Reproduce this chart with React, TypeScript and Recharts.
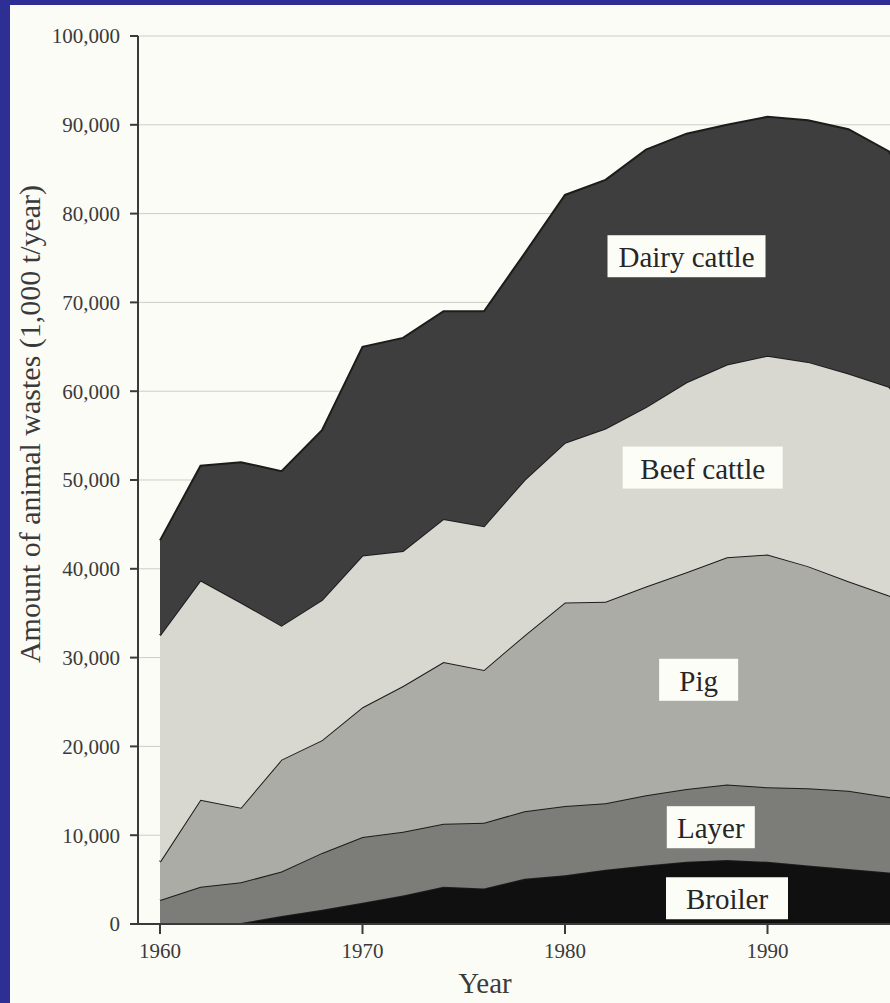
import React from 'react'
import {
  AreaChart,
  Area,
  XAxis,
  YAxis,
  CartesianGrid,
  ReferenceDot,
  Label
} from 'recharts'

// Animal wastes by livestock type, 1,000 t/year
const years = [
  1960, 1962, 1964, 1966, 1968, 1970, 1972, 1974, 1976, 1978,
  1980, 1982, 1984, 1986, 1988, 1990, 1992, 1994, 1996, 1998
]
const broiler = [
  0, 0, 100, 900, 1600, 2400, 3200, 4200, 4000, 5100,
  5500, 6100, 6600, 7000, 7200, 7000, 6600, 6200, 5800, 5300
]
const layer = [
  2700, 4200, 4600, 5000, 6400, 7400, 7200, 7100, 7400, 7600,
  7800, 7500, 7900, 8200, 8500, 8400, 8700, 8800, 8500, 8200
]
const pig = [
  4300, 9800, 8400, 12600, 12700, 14600, 16400, 18200, 17200, 19800,
  22900, 22700, 23500, 24400, 25600, 26200, 25000, 23600, 22700, 21000
]
const beef = [
  25500, 24700, 23100, 15100, 15800, 17100, 15200, 16100, 16200, 17500,
  18000, 19500, 20200, 21400, 21700, 22400, 23000, 23400, 23500, 20500
]
const dairy = [
  10700, 12900, 15800, 17400, 19100, 23500, 24000, 23400, 24200, 25500,
  27900, 28000, 29000, 28000, 27000, 26900, 27200, 27500, 26500, 24000
]

const xTicks = [1960, 1970, 1980, 1990]
const yTicks = [0, 10000, 20000, 30000, 40000, 50000, 60000, 70000, 80000, 90000, 100000]

// in-chart labels (anchored in data units)
const labelNames = ['Dairy cattle', 'Beef cattle', 'Pig', 'Layer', 'Broiler']
const labelYears = [1986.0, 1986.8, 1986.6, 1987.2, 1988.0]
const labelValues = [75200, 51400, 27500, 10900, 2900]
const labelBoxWidths = [158, 160, 79, 88, 122]

const data = years.map((year, i) => ({
  year,
  broiler: broiler[i],
  layer: layer[i],
  pig: pig[i],
  beef: beef[i],
  dairy: dairy[i]
}))

const FONT = '"Liberation Serif", "Times New Roman", serif'
const INK = '#3a3a3a'
const EDGE = '#1c1c1c'

const series = [
  { key: 'broiler', fill: '#101010' },
  { key: 'layer', fill: '#7c7c79' },
  { key: 'pig', fill: '#acaca6' },
  { key: 'beef', fill: '#d8d8d1' },
  { key: 'dairy', fill: '#3e3e3e' }
]

const LabelBox = (props: any) => {
  const { cx, cy, text, w } = props
  return (
    <g>
      <rect x={cx - w / 2} y={cy - 21} width={w} height={42} fill="#fdfdf8" />
      <text
        x={cx}
        y={cy + 1}
        textAnchor="middle"
        dominantBaseline="central"
        fontSize={29}
        fontFamily={FONT}
        fill="#262626"
      >
        {text}
      </text>
    </g>
  )
}

const App: React.FC = () => {
  return (
    <div
      style={{
        position: 'fixed',
        left: 0,
        top: 0,
        width: 890,
        height: 1003,
        overflow: 'hidden',
        background: '#2d2f95'
      }}
    >
      <div
        style={{
          position: 'absolute',
          left: 10,
          top: 5,
          width: 1000,
          height: 998,
          background: '#fcfcf6'
        }}
      >
        <AreaChart
          width={990}
          height={998}
          data={data}
          margin={{ top: 31, right: 30, left: 0, bottom: 19 }}
        >
          <CartesianGrid vertical={false} stroke="#cdcdc6" strokeWidth={1} />
          <XAxis
            dataKey="year"
            type="number"
            domain={[1960, 2000]}
            ticks={xTicks}
            padding={{ left: 22, right: 0 }}
            height={60}
            stroke={INK}
            strokeWidth={2}
            tickSize={10}
            tickMargin={9}
            tick={{ fontSize: 21, fontFamily: FONT, fill: INK }}
          >
            <Label
              content={({ viewBox }: any) => (
                <text
                  x={viewBox.x + 347}
                  y={viewBox.y + 59}
                  textAnchor="middle"
                  dominantBaseline="central"
                  fontSize={29}
                  fontFamily={FONT}
                  fill={INK}
                >
                  Year
                </text>
              )}
            />
          </XAxis>
          <YAxis
            type="number"
            domain={[0, 100000]}
            ticks={yTicks}
            width={128}
            stroke={INK}
            strokeWidth={2}
            tickSize={8}
            tickMargin={10}
            tickFormatter={(v: number) => v.toLocaleString('en-US')}
            tick={{ fontSize: 21, fontFamily: FONT, fill: INK }}
          >
            <Label
              content={({ viewBox }: any) => {
                const x = viewBox.x + 19
                const y = viewBox.y + viewBox.height / 2 - 56
                return (
                  <text
                    x={x}
                    y={y}
                    transform={`rotate(-90, ${x}, ${y})`}
                    textAnchor="middle"
                    dominantBaseline="central"
                    fontSize={30}
                    fontFamily={FONT}
                    fill={INK}
                  >
                    Amount of animal wastes (1,000 t/year)
                  </text>
                )
              }}
            />
          </YAxis>
          {series.map((s) => (
            <Area
              key={s.key}
              type="linear"
              dataKey={s.key}
              stackId="1"
              fill={s.fill}
              fillOpacity={1}
              stroke={EDGE}
              strokeWidth={2}
              dot={false}
              activeDot={false}
              isAnimationActive={false}
            />
          ))}
          {labelNames.map((name, i) => (
            <ReferenceDot
              key={name}
              x={labelYears[i]}
              y={labelValues[i]}
              r={0}
              shape={(p: any) => (
                <LabelBox cx={p.cx} cy={p.cy} text={name} w={labelBoxWidths[i]} />
              )}
            />
          ))}
        </AreaChart>
      </div>
    </div>
  )
}

export default App
